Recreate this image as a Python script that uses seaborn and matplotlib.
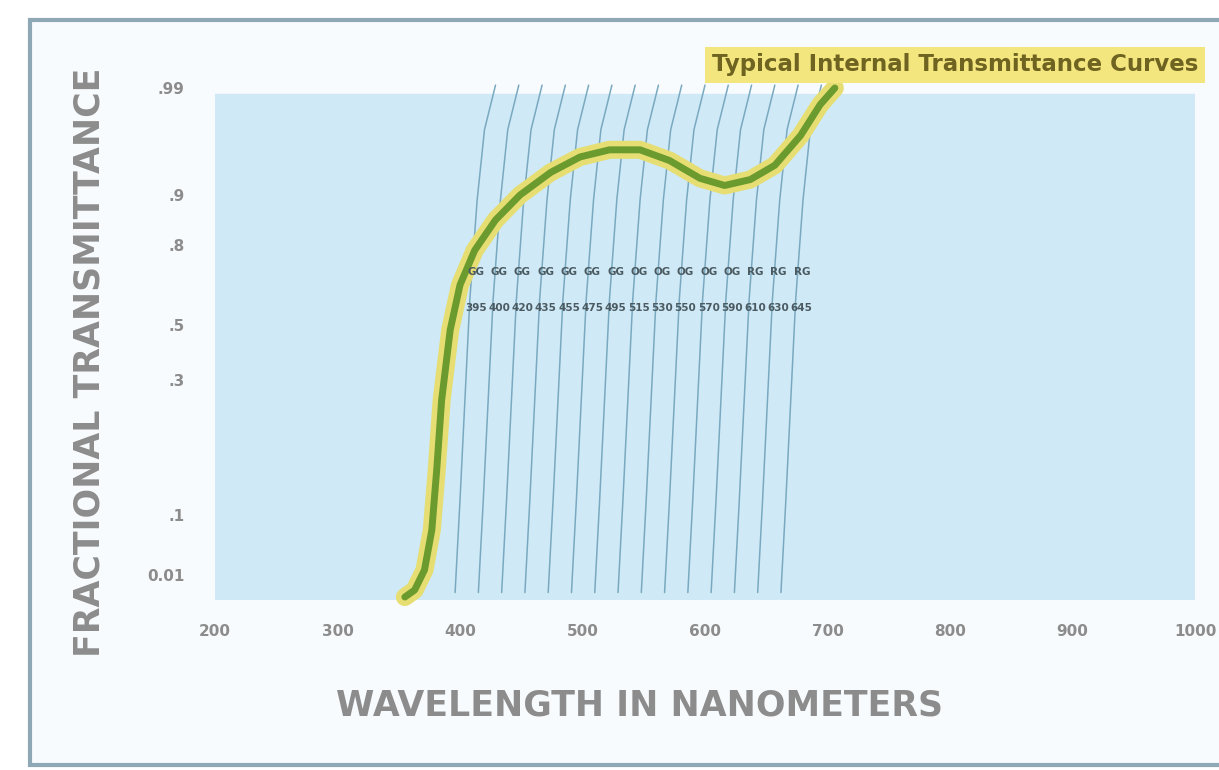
import numpy as np
import pandas as pd
import matplotlib
matplotlib.use("Agg")
import matplotlib.pyplot as plt
from matplotlib.patches import Rectangle
import seaborn as sns

# envelope curve (wavelength nm, fractional transmittance)
env_wl = [355, 363, 371, 377, 381, 385, 392, 400, 412, 429, 449, 474, 498,
          522, 547, 571, 596, 616, 637, 657, 678, 694, 706]
env_t = [0.0012, 0.004, 0.0175, 0.0775, 0.167, 0.27, 0.482, 0.65, 0.78, 0.85, 0.9, 0.919, 0.932,
         0.938, 0.938, 0.929, 0.914, 0.908, 0.913, 0.925, 0.95, 0.976, 0.99]

# single filter edge profile: offset from the edge foot (nm) vs transmittance
edge_dwl = [0, 4, 8, 12, 18, 24, 33]
edge_t = [0.003, 0.122, 0.27, 0.594, 0.89, 0.955, 0.992]

# filter names and where each edge starts at the bottom of the chart
filters = ["GG395", "GG400", "GG420", "GG435", "GG455", "GG475", "GG495",
           "OG515", "OG530", "OG550", "OG570", "OG590", "RG610", "RG630", "RG645"]
edge_start = [396, 415, 434, 453, 472, 491, 510, 529, 548, 567, 586, 605, 624, 643, 662]

xticks = [200, 300, 400, 500, 600, 700, 800, 900, 1000]
yticks = [0.01, 0.1, 0.3, 0.5, 0.8, 0.9, 0.99]
ytick_labels = ["0.01", ".1", ".3", ".5", ".8", ".9", ".99"]

# ordinate scale knots (transmittance -> relative height)
knot_t = [1e-5, 0.01, 0.1, 0.3, 0.5, 0.8, 0.9, 0.99, 0.999]
knot_h = [170, 195, 255, 390, 445, 525, 575, 682, 695]


def fwd(t):
    return np.interp(t, knot_t, knot_h)


def inv(h):
    return np.interp(h, knot_h, knot_t)


rows = []
for name, w0 in zip(filters, edge_start):
    for d, t in zip(edge_dwl, edge_t):
        rows.append({"filter": name, "wl": w0 + d, "t": t})
df = pd.DataFrame(rows)
env = pd.DataFrame({"wl": env_wl, "t": env_t})

sns.set_style("white")
gray = "#8c8c8c"

fig = plt.figure(figsize=(12.19, 7.7), dpi=100)
fig.patch.set_facecolor("white")
fig.patches.append(Rectangle((30 / 1219, 5 / 770), 1.2, 745 / 770, transform=fig.transFigure,
                             facecolor="#f8fbfd", edgecolor="#8fa8b6", lw=3, zorder=-1))

ax = fig.add_axes([215 / 1219, 1 - 600 / 770, 980 / 1219, 525 / 770])
ax.set_facecolor("none")
ax.set_yscale("function", functions=(fwd, inv))
ax.axhspan(1e-5, 0.985, color="#cfe9f6", zorder=0)

sns.lineplot(data=df, x="wl", y="t", hue="filter", units="filter", estimator=None,
             palette=["#79a9c0"] * len(filters), lw=1.1, legend=False, ax=ax,
             clip_on=False, zorder=2, sort=False)

sns.lineplot(data=env, x="wl", y="t", color="#e6de72", lw=13, ax=ax, clip_on=False,
             zorder=3, solid_capstyle="round")
sns.lineplot(data=env, x="wl", y="t", color="#6b9a2e", lw=5, ax=ax, clip_on=False,
             zorder=4, solid_capstyle="round")

# filter labels in two rows
for name, w0 in zip(filters, edge_start):
    ax.text(w0 + 17, 0.70, name[:2], fontsize=7.5, color="#4a5a60", ha="center",
            va="center", fontweight="bold", zorder=5)
    ax.text(w0 + 17, 0.565, name[2:], fontsize=7.5, color="#4a5a60", ha="center",
            va="center", fontweight="bold", zorder=5)

ax.set_xlim(200, 1000)
ax.set_ylim(1e-5, 0.999)
ax.set_xticks(xticks)
ax.set_xticklabels([str(v) for v in xticks], fontsize=11, fontweight="bold", color=gray)
ax.set_yticks(yticks)
ax.set_yticklabels(ytick_labels, fontsize=11, fontweight="bold", color=gray)
ax.yaxis.set_minor_locator(matplotlib.ticker.NullLocator())
ax.tick_params(axis="y", length=0, pad=22)
ax.tick_params(axis="x", length=0, pad=17)
for s in ax.spines.values():
    s.set_visible(False)

ax.set_xlabel("")
ax.set_ylabel("")
fig.text(640 / 1219, 1 - 705 / 770, "WAVELENGTH IN NANOMETERS", fontsize=25,
         fontweight="bold", color=gray, ha="center", va="center")
fig.text(90 / 1219, 1 - 362 / 770, "FRACTIONAL TRANSMITTANCE", fontsize=25,
         fontweight="bold", color=gray, ha="center", va="center", rotation=90)

fig.text(712 / 1219, 1 - 65 / 770, "Typical Internal Transmittance Curves", fontsize=16.5,
         fontweight="bold", color="#6e6320", ha="left", va="center",
         bbox=dict(boxstyle="square,pad=0.3", facecolor="#f4e67e", edgecolor="none"))

fig.savefig("out.png", dpi=100)
